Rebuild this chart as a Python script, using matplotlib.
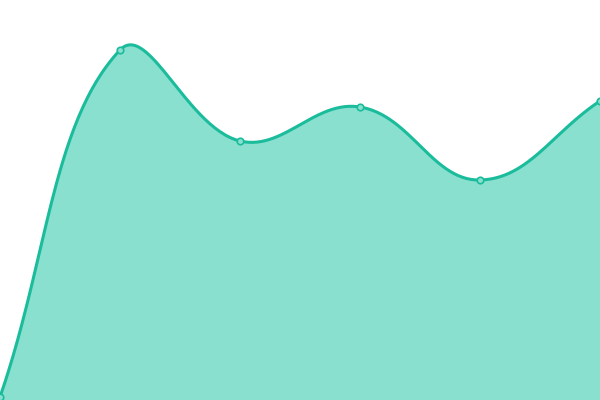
import numpy as np
import matplotlib
matplotlib.use("Agg")
import matplotlib.pyplot as plt

# data (value units, axis runs 0..400)
xs = [0, 1, 2, 3, 4, 5]
values = [3, 350, 259, 293, 220, 299]

line_color = "#1abc9c"
fill_color = "#89e0cf"


def spline_controls(px, py, t=0.4):
    # chart.js-style cardinal spline control points
    n = len(px)
    cps = []
    for i in range(n):
        p0 = (px[max(i - 1, 0)], py[max(i - 1, 0)])
        p1 = (px[i], py[i])
        p2 = (px[min(i + 1, n - 1)], py[min(i + 1, n - 1)])
        d01 = np.hypot(p1[0] - p0[0], p1[1] - p0[1])
        d12 = np.hypot(p2[0] - p1[0], p2[1] - p1[1])
        tot = d01 + d12
        s01 = d01 / tot if tot else 0
        s12 = d12 / tot if tot else 0
        fa, fb = t * s01, t * s12
        prev_cp = (p1[0] - fa * (p2[0] - p0[0]), p1[1] - fa * (p2[1] - p0[1]))
        next_cp = (p1[0] + fb * (p2[0] - p0[0]), p1[1] + fb * (p2[1] - p0[1]))
        cps.append((prev_cp, next_cp))
    return cps


def smooth(xv, yv, steps=60):
    # work in pixel space so tension matches the drawn chart
    px = np.array(xv, float) * 120.0
    py = np.array(yv, float)
    cps = spline_controls(px, py)
    out_x, out_y = [px[0]], [py[0]]
    tt = np.linspace(0, 1, steps)[1:]
    for i in range(len(px) - 1):
        a = np.array([px[i], py[i]])
        b = np.array(cps[i][1])
        c = np.array(cps[i + 1][0])
        d = np.array([px[i + 1], py[i + 1]])
        for t in tt:
            p = (1 - t) ** 3 * a + 3 * (1 - t) ** 2 * t * b + 3 * (1 - t) * t ** 2 * c + t ** 3 * d
            out_x.append(p[0] / 120.0)
            out_y.append(p[1])
    return np.array(out_x), np.array(out_y)


sx, sy = smooth(xs, values)

fig = plt.figure(figsize=(6, 4), dpi=100)
ax = fig.add_axes([0, 0, 1, 1])
ax.fill_between(sx, sy, 0, color=fill_color, linewidth=0)
ax.plot(sx, sy, color=line_color, linewidth=2.2, solid_capstyle="round")
ax.scatter(xs, values, s=22, color=fill_color, edgecolor=line_color, linewidth=1.2, zorder=3)
ax.set_xlim(0, 5)
ax.set_ylim(0, 400)
ax.axis("off")
fig.savefig("out.png", dpi=100)
